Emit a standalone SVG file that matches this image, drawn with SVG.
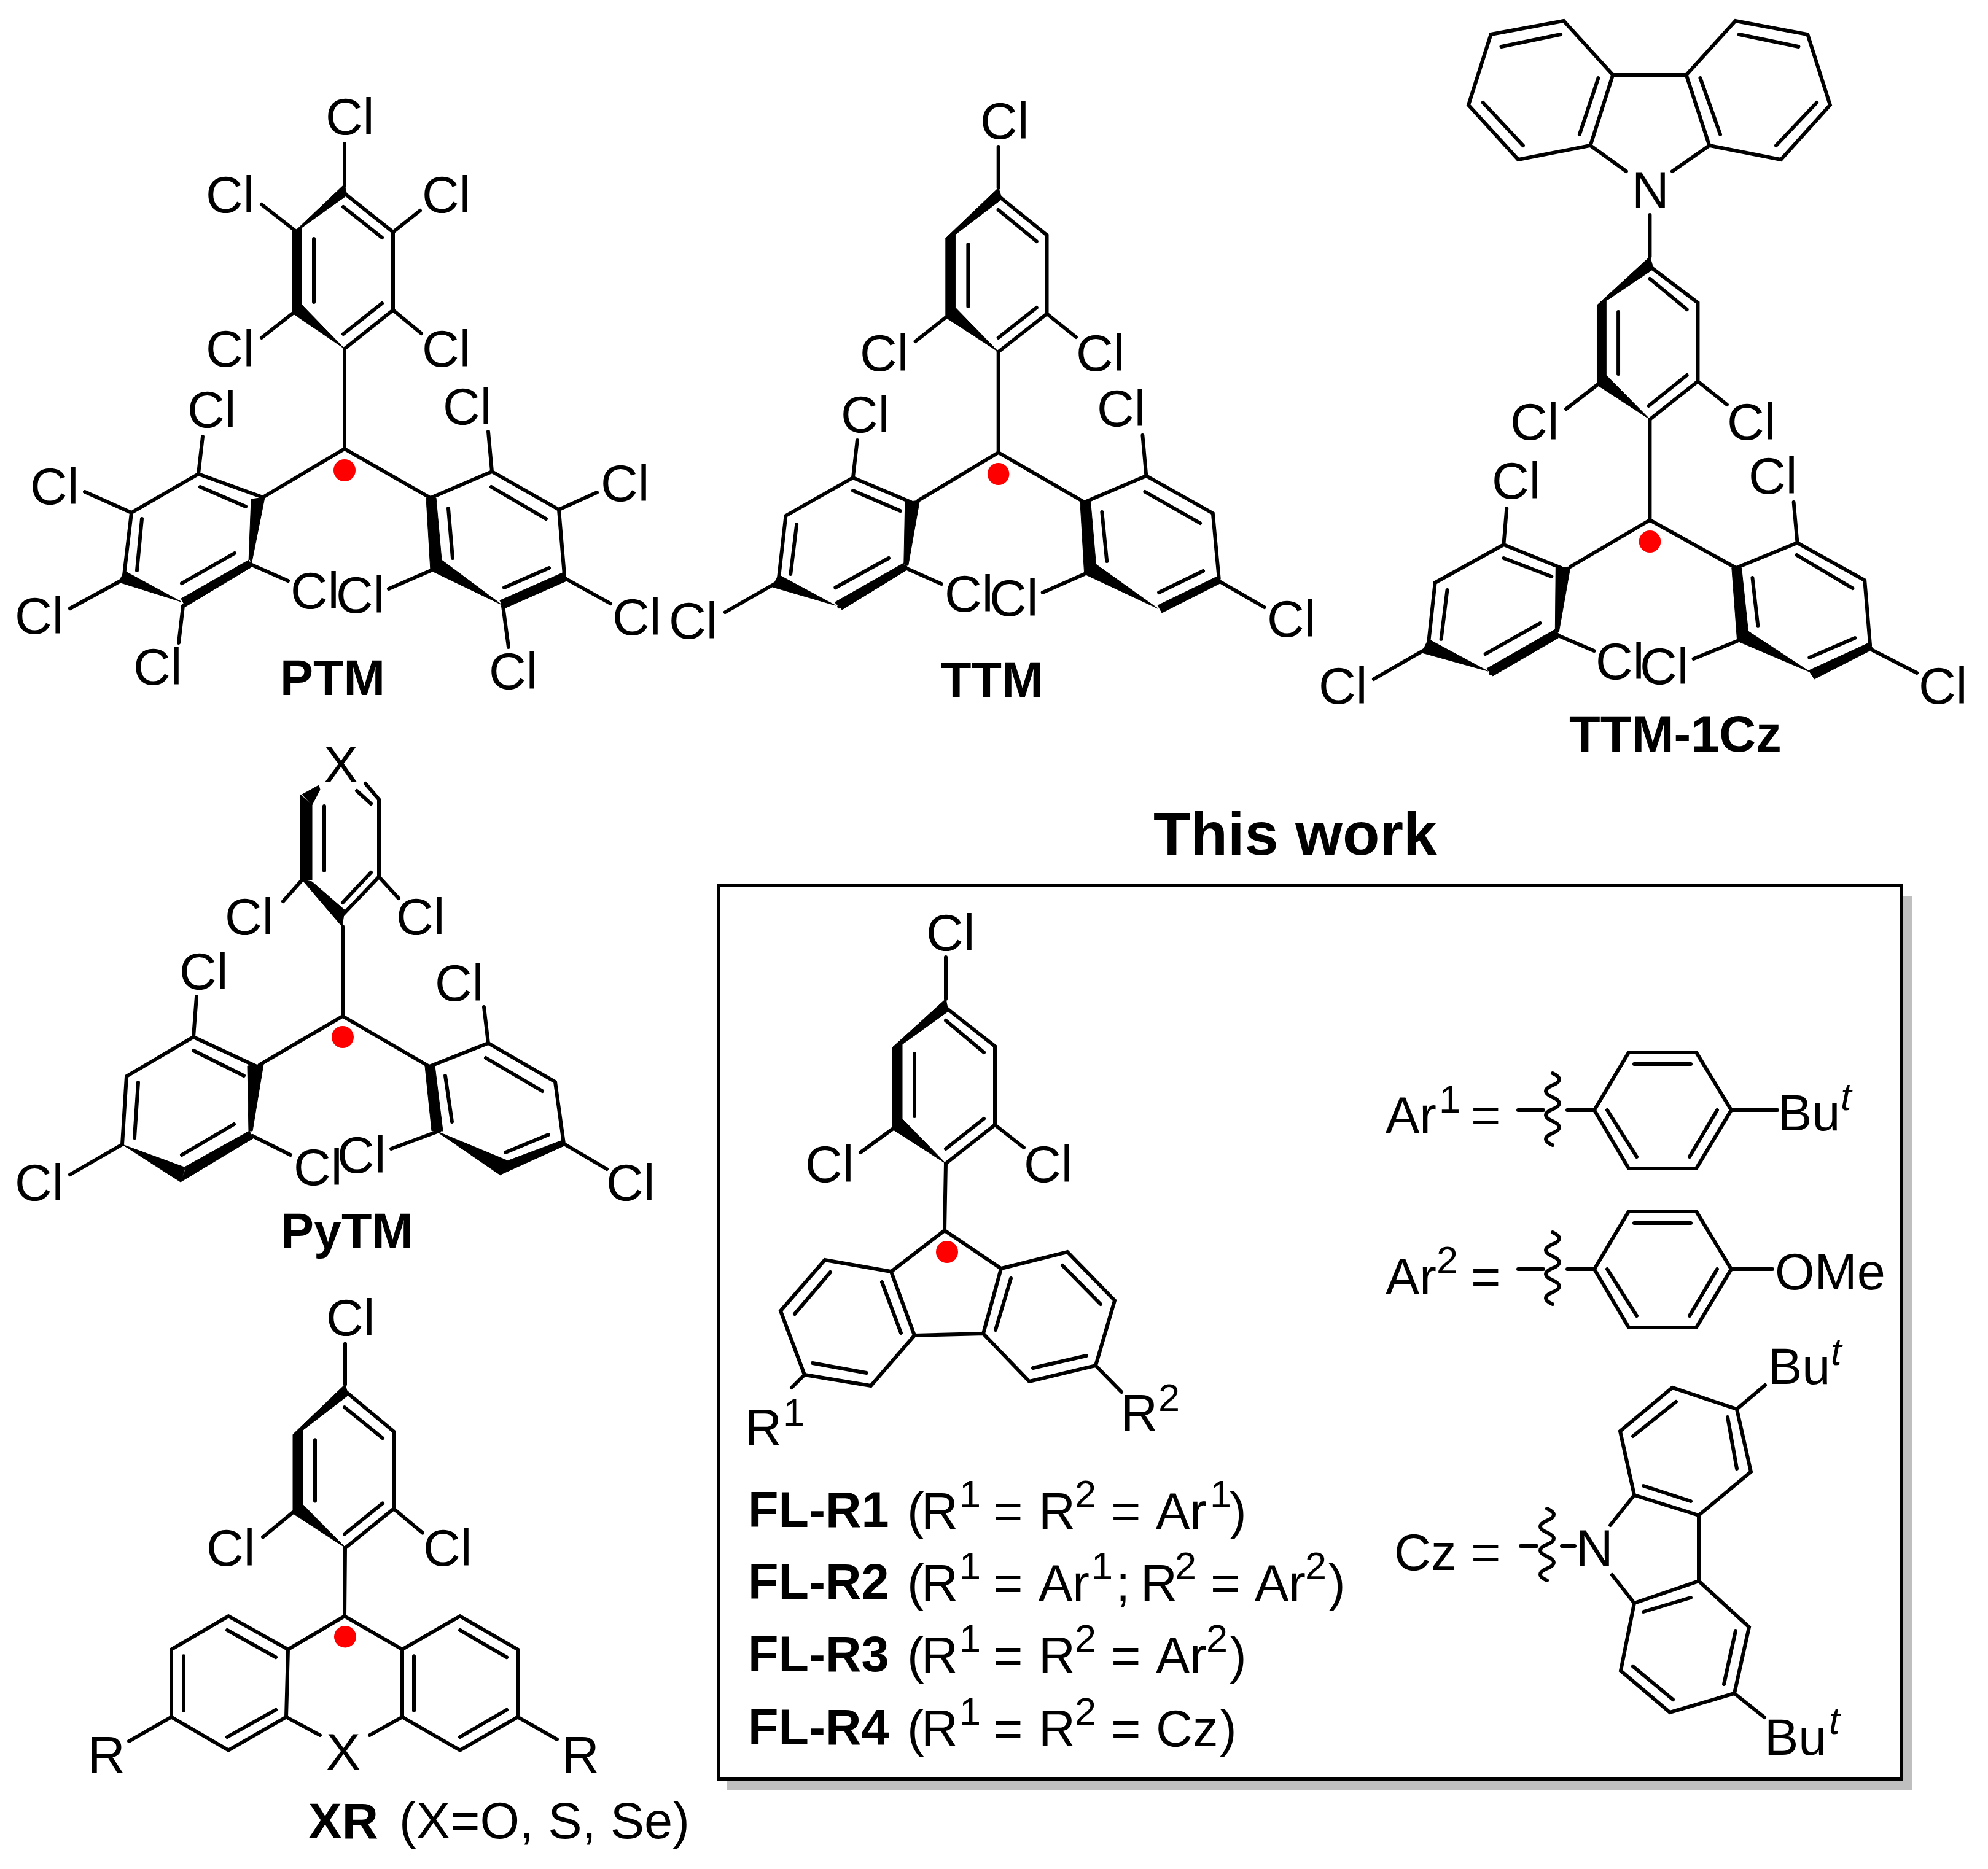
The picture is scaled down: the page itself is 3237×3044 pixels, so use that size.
<svg xmlns="http://www.w3.org/2000/svg" width="3237" height="3044" viewBox="0 0 3237 3044">
<style>
text{font-family:"Liberation Sans",Arial,sans-serif;fill:#000}
.a{font-size:84px}
.n{font-size:83px}
.s{font-size:63px}
.i{font-size:63px;font-style:italic}
.l{font-size:81px;font-weight:bold}
.b{fill:none;stroke:#000;stroke-width:6;stroke-linecap:round;stroke-linejoin:miter}
.w{fill:#000;stroke:#000;stroke-width:1}
.r{fill:#f00}
</style>
<rect width="3237" height="3044" fill="#fff"/>
<g id="box">
<rect x="1184" y="1460" width="1930" height="1455" fill="#bfbfbf"/>
<rect x="1170" y="1442" width="1926" height="1455" fill="#fff" stroke="#000" stroke-width="6"/>
</g>
<g id="connectors">
<path class="b" d="M561 731V568M561 731L428 810M561 731L701 811"/>
<path class="b" transform="translate(1093 0) scale(.9864 1) translate(-1093 0)" d="M1633 737V573M1633 737L1501 815M1633 737L1775 818"/>
<path class="b" transform="translate(2147 0) scale(.988 1) translate(-2151 0)" d="M2697 847V683M2697 847L2566 923M2697 847L2839 925M2697 350V418"/>
<path class="b" transform="translate(0 -9)" d="M558 1664V1518M558 1664L423 1743M558 1664L699 1746"/>
<path class="b" transform="translate(0 2175) scale(1 .9834) translate(0 -2175)" d="M562 2527L561 2640"/>
<path class="b" transform="translate(-7 -10)" d="M1547 1905L1545 2014"/>
</g>
<g id="ptm">
<path class="b" d="M561 302V234M481 376L426 333M640 378L684 343M477 510L426 550M640 505L686 543M561 315L640 378V505L561 568M559 337L622 387M511 389V492M559 544L622 494"/>
<path class="w" d="M561 300L565 318L491 371L481 376ZM476 376L491 371V496L476 510ZM476 510L491 496L561 568Z"/>
<path class="b" d="M428 810L323 772L214 835L202 937M409 919L298 987M326 793L400 825M231 845L223 929M296 950L382 901M323 772L330 711M214 835L138 801M202 943L114 991M298 987L291 1047M410 920L469 946"/>
<path class="w" d="M409 813L431 810L410 915L405 915ZM193 948L203 930L295 980ZM295 975L302 988L412 922L407 911Z"/>
<path class="b" d="M701 811L801 768L910 830L919 937M800 793L889 845M730 828L737 909M821 957L894 925M801 768L795 703M910 830L972 802M922 943L994 983M819 987L828 1054M702 929L633 959"/>
<path class="w" d="M694 811L710 811L719 912L701 929ZM701 929L719 912L817 985ZM814 978L821 991L925 945L918 932Z"/>
<circle class="r" cx="561" cy="766" r="18"/>
<text class="a" x="530" y="219">Cl</text><text class="a" x="335" y="346">Cl</text><text class="a" x="687" y="346">Cl</text><text class="a" x="335" y="597">Cl</text><text class="a" x="687" y="597">Cl</text>
<text class="a" x="305" y="696">Cl</text><text class="a" x="49" y="821">Cl</text><text class="a" x="24" y="1032">Cl</text><text class="a" x="217" y="1115">Cl</text><text class="a" x="473" y="991">Cl</text>
<text class="a" x="547" y="998">Cl</text><text class="a" x="721" y="691">Cl</text><text class="a" x="978" y="816">Cl</text><text class="a" x="997" y="1034">Cl</text><text class="a" x="796" y="1122">Cl</text>
<text class="l" x="456" y="1132">PTM</text>
</g>
<g id="ttm">
<g transform="translate(1093 0) scale(.9864 1) translate(-1093 0)">
<path class="b" d="M1633 306V239M1633 319L1713 383V511L1633 573M1633 342L1696 393M1583 398V499M1633 550L1696 501M1546 517L1496 556M1713 511L1761 549"/>
<path class="w" d="M1633 306L1639 324L1562 382L1546 388ZM1546 388L1562 382V501L1546 517ZM1546 517L1562 501L1633 573Z"/>
<path class="b" d="M1489 818L1393 778L1282 840L1270 945M1480 924L1370 988M1393 799L1471 832M1300 854L1290 935M1364 957L1452 909M1393 778L1400 717M1267 949L1182 997M1482 926L1539 951"/>
<path class="w" d="M1479 818L1503 815L1484 921L1477 921ZM1260 956L1270 936L1364 986ZM1363 981L1375 993L1482 928L1477 917Z"/>
<path class="b" d="M1775 818L1877 775L1987 836L1997 942M1804 834L1812 914M1875 801L1966 852M1898 965L1971 930M1877 775L1871 709M2000 948L2072 989M1775 935L1706 965"/>
<path class="w" d="M1768 816L1785 816L1794 919L1775 935ZM1775 935L1794 919L1896 991ZM1896 986L1903 998L2001 949L1996 938Z"/>
<circle class="r" cx="1633" cy="772" r="18"/>
</g>
<text class="a" x="1596" y="226">Cl</text><text class="a" x="1400" y="604">Cl</text><text class="a" x="1752" y="604">Cl</text>
<text class="a" x="1369" y="704">Cl</text><text class="a" x="1089" y="1040">Cl</text><text class="a" x="1538" y="996">Cl</text>
<text class="a" x="1786" y="694">Cl</text><text class="a" x="1611" y="1003">Cl</text><text class="a" x="2063" y="1037">Cl</text>
<text class="l" x="1532" y="1135">TTM</text>
</g>
<g id="ttm-1cz">
<g transform="translate(2147 0) scale(.988 1) translate(-2151 0)">
<path class="b" d="M2555 34L2435 56L2398 171L2480 260L2599 237L2636 122ZM2636 122H2757L2838 34L2957 56L2994 171L2913 260L2795 237L2757 122M2550 56L2452 76M2422 167L2488 237M2612 127L2581 219M2844 56L2942 76M2972 167L2905 237M2780 127L2813 219M2599 237L2658 279M2795 237L2734 279"/>
<path class="b" d="M2697 434L2776 493V621L2697 683M2697 454L2758 504M2645 508V609M2695 661L2758 611M2610 627L2559 666M2776 621L2824 659"/>
<path class="w" d="M2697 418L2703 438L2625 490L2610 497ZM2610 497L2625 490V611L2610 627ZM2610 627L2625 611L2697 683Z"/>
<path class="b" d="M2551 925L2456 887L2343 949L2332 1049M2544 1033L2435 1097M2456 909L2535 939M2363 961L2353 1041M2426 1065L2516 1015M2456 887L2461 828M2328 1057L2242 1106M2546 1035L2605 1060"/>
<path class="w" d="M2542 925L2566 923L2547 1029L2541 1029ZM2321 1063L2332 1041L2430 1093ZM2428 1089L2438 1101L2546 1039L2541 1025Z"/>
<path class="b" d="M2839 925L2940 884L3051 945L3060 1051M2866 941L2875 1019M2939 904L3031 958M2960 1071L3035 1039M2940 884L2934 818M3064 1059L3137 1096M2841 1044L2769 1073"/>
<path class="w" d="M2832 925L2848 925L2859 1028L2841 1044ZM2841 1044L2859 1028L2962 1095ZM2959 1092L2968 1106L3065 1057L3058 1047Z"/>
<circle class="r" cx="2697" cy="882" r="18"/>
</g>
<text class="a" x="2657" y="338">N</text>
<text class="a" x="2459" y="716">Cl</text><text class="a" x="2812" y="716">Cl</text>
<text class="a" x="2429" y="812">Cl</text><text class="a" x="2147" y="1146">Cl</text><text class="a" x="2598" y="1106">Cl</text>
<text class="a" x="2847" y="804">Cl</text><text class="a" x="2670" y="1114">Cl</text><text class="a" x="3124" y="1146">Cl</text>
<text class="l" x="2555" y="1224" style="font-size:83px">TTM-1Cz</text>
</g>
<g id="pytm">
<g transform="translate(0 -9)">
<path class="b" d="M617 1311V1437L558 1499M617 1311L595 1285M581 1297L604 1318M558 1479L604 1430M528 1322V1427M492 1442L461 1477M617 1437L649 1472"/>
<path class="w" d="M492 1303L519 1288L521 1295L508 1320ZM489 1303L508 1320V1442H489ZM492 1442L508 1445L561 1491L557 1518Z"/>
<path class="b" d="M416 1745L315 1698L206 1762L199 1873M315 1720L397 1761M225 1772L219 1862M296 1890L381 1840M315 1698L320 1632M199 1873L114 1922M411 1859L473 1890"/>
<path class="w" d="M403 1745L429 1742L411 1851L405 1851ZM199 1873L294 1934L303 1911ZM294 1934L302 1909L406 1851L412 1863Z"/>
<path class="b" d="M699 1746L795 1708L904 1771L918 1872M725 1761L736 1836M791 1732L883 1786M823 1886L893 1857M795 1708L788 1649M920 1873L988 1913M715 1851L637 1880"/>
<path class="w" d="M692 1745L708 1745L721 1851L703 1851ZM710 1851L828 1900L815 1923ZM815 1922L828 1899L916 1866L921 1874Z"/>
<circle class="r" cx="558" cy="1698" r="18"/>
</g>
<text class="a" x="527" y="1274">X</text>
<text class="a" x="366" y="1522">Cl</text><text class="a" x="645" y="1522">Cl</text>
<text class="a" x="292" y="1611">Cl</text><text class="a" x="24" y="1955">Cl</text><text class="a" x="478" y="1930">Cl</text>
<text class="a" x="708" y="1630">Cl</text><text class="a" x="549" y="1910">Cl</text><text class="a" x="987" y="1955">Cl</text>
<text class="l" x="457" y="2033">PyTM</text>
</g>
<g id="xr">
<g transform="translate(0 2175) scale(1 .9834) translate(0 -2175)">
<path class="b" d="M562 2189V2256M563 2268L641 2334V2462L562 2527M561 2294L623 2345M513 2348V2449M561 2504L623 2453M477 2468L428 2509M641 2462L688 2502"/>
<path class="w" d="M562 2256L567 2274L493 2332L477 2339ZM477 2339L493 2332V2455L477 2470ZM477 2470L493 2455L563 2527Z"/>
<path class="b" d="M561 2640L469 2695L372 2640L279 2695V2807L372 2862L466 2807M469 2695L466 2807M561 2640L655 2695L749 2640L843 2695V2807L749 2862L655 2807M655 2695V2807M370 2663L449 2708M299 2706V2796M370 2840L449 2795M749 2663L825 2708M674 2706V2796M749 2840L825 2795M466 2807L521 2837M655 2807L602 2837M279 2807L210 2847M843 2807L907 2844"/>
<circle class="r" cx="562" cy="2674" r="18"/>
</g>
<text class="a" x="531" y="2175">Cl</text><text class="a" x="336" y="2550">Cl</text><text class="a" x="689" y="2550">Cl</text>
<text class="a" x="531" y="2882">X</text><text class="a" x="143" y="2887">R</text><text class="a" x="915" y="2887">R</text>
<text class="l" x="502" y="2994" style="font-size:82px">XR</text><text class="n" x="650" y="2994">(X=O, S, Se)</text>
</g>
<g id="title"><text x="1878" y="1392" style="font-size:99px;font-weight:bold">This work</text></g>
<g id="fl">
<g transform="translate(-7 -10)">
<path class="b" d="M1547 1569V1637M1547 1651L1627 1714V1842L1547 1905M1547 1672L1609 1724M1496 1726V1828M1547 1881L1609 1832M1460 1849L1408 1887M1627 1842L1674 1879"/>
<path class="w" d="M1547 1637L1551 1657L1476 1711L1460 1716ZM1460 1716L1476 1711V1832L1460 1849ZM1460 1849L1476 1832L1547 1905Z"/>
<path class="b" d="M1545 2014L1458 2081L1496 2185L1608 2182L1637 2076L1545 2014M1458 2081L1350 2062L1278 2145L1317 2249L1425 2267L1496 2185M1637 2076L1745 2049L1822 2128L1791 2234L1683 2260L1608 2182M1359 2082L1301 2150M1330 2230L1418 2246M1443 2098L1474 2181M1653 2092L1628 2176M1737 2071L1799 2134M1776 2218L1689 2238M1317 2249L1296 2270M1791 2234L1833 2277"/>
<circle class="r" cx="1549" cy="2049" r="18"/>
</g>
<text class="a" x="1508" y="1548">Cl</text><text class="a" x="1311" y="1925">Cl</text><text class="a" x="1667" y="1925">Cl</text>
<text class="n" x="1213" y="2354">R</text><text class="s" x="1275" y="2322">1</text>
<text class="n" x="1825" y="2330">R</text><text class="s" x="1886" y="2298">2</text>
</g>
<g id="fl-list">
<text class="l" x="1218" y="2487">FL-R1</text>
<text class="n" x="1477" y="2490">(</text><text class="n" x="1500" y="2490">R</text><text class="s" x="1562" y="2455">1</text><text class="n" x="1617" y="2490">=</text><text class="n" x="1691" y="2490">R</text><text class="s" x="1750" y="2455">2</text><text class="n" x="1809" y="2490">=</text><text class="n" x="1882" y="2490">Ar</text><text class="s" x="1970" y="2455">1</text><text class="n" x="2002" y="2490">)</text>
<text class="l" x="1218" y="2604">FL-R2</text>
<text class="n" x="1477" y="2607">(</text><text class="n" x="1500" y="2607">R</text><text class="s" x="1562" y="2572">1</text><text class="n" x="1617" y="2607">=</text><text class="n" x="1691" y="2607">Ar</text><text class="s" x="1777" y="2572">1</text><text class="n" x="1817" y="2607">;</text><text class="n" x="1857" y="2607">R</text><text class="s" x="1913" y="2572">2</text><text class="n" x="1971" y="2607">=</text><text class="n" x="2043" y="2607">Ar</text><text class="s" x="2125" y="2572">2</text><text class="n" x="2163" y="2607">)</text>
<text class="l" x="1218" y="2722">FL-R3</text>
<text class="n" x="1477" y="2725">(</text><text class="n" x="1500" y="2725">R</text><text class="s" x="1562" y="2690">1</text><text class="n" x="1617" y="2725">=</text><text class="n" x="1691" y="2725">R</text><text class="s" x="1750" y="2690">2</text><text class="n" x="1809" y="2725">=</text><text class="n" x="1882" y="2725">Ar</text><text class="s" x="1964" y="2690">2</text><text class="n" x="2002" y="2725">)</text>
<text class="l" x="1218" y="2841">FL-R4</text>
<text class="n" x="1477" y="2844">(</text><text class="n" x="1500" y="2844">R</text><text class="s" x="1562" y="2809">1</text><text class="n" x="1617" y="2844">=</text><text class="n" x="1691" y="2844">R</text><text class="s" x="1750" y="2809">2</text><text class="n" x="1809" y="2844">=</text><text class="n" x="1882" y="2844">Cz</text><text class="n" x="1986" y="2844">)</text>
</g>
<g id="ar1">
<g transform="translate(-10 -10)">
<path class="b" d="M2482 1818H2523M2562 1818H2606L2662 1724H2772L2829 1818L2772 1913H2662L2606 1818M2671 1743H2763M2627 1818L2675 1894M2806 1818L2761 1894M2829 1818H2904"/>
<path class="b" d="M2538 1758q22 10 0 19.5t0 19.5t0 19.5t0 19.5t0 19.5t0 19.5"/>
</g>
<text class="n" x="2256" y="1845">Ar</text><text class="s" x="2343" y="1812">1</text><text class="n" x="2395" y="1845">=</text>
<text class="n" x="2895" y="1841">Bu</text><text class="i" x="2997" y="1808">t</text>
</g>
<g id="ar2">
<g transform="translate(-10 -10)">
<path class="b" d="M2482 2077H2523M2562 2077H2606L2662 1983H2772L2829 2077L2772 2172H2662L2606 2077M2671 2002H2763M2627 2077L2675 2153M2806 2077L2761 2153M2829 2077H2896"/>
<path class="b" d="M2538 2017q22 10 0 19.5t0 19.5t0 19.5t0 19.5t0 19.5t0 19.5"/>
</g>
<text class="n" x="2256" y="2108">Ar</text><text class="s" x="2339" y="2074">2</text><text class="n" x="2395" y="2108">=</text>
<text class="n" x="2890" y="2100">OMe</text>
</g>
<g id="cz">
<g transform="translate(-12 -8)">
<path class="b" d="M2840 2303L2735 2268L2650 2339L2673 2443L2778 2476L2863 2405ZM2778 2476V2583L2673 2619L2651 2729L2731 2797L2836 2766L2860 2658L2778 2583M2825 2316L2840 2400M2741 2291L2671 2347M2688 2428L2765 2453M2688 2633L2765 2610M2671 2722L2736 2776M2819 2751L2838 2664M2673 2443L2634 2492M2673 2619L2637 2573M2840 2303L2886 2264M2836 2766L2885 2805"/>
</g>
<g transform="translate(-6 -12)">
<path class="b" d="M2482 2530H2508M2549 2530H2570"/>
<path class="b" d="M2525 2469q22 10 0 19.5t0 19.5t0 19.5t0 19.5t0 19.5t0 19.5"/>
</g>
<text class="n" x="2270" y="2557">Cz</text><text class="n" x="2395" y="2557">=</text><text class="a" x="2566" y="2550">N</text>
<text class="n" x="2879" y="2254">Bu</text><text class="i" x="2981" y="2223">t</text>
<text class="n" x="2873" y="2858">Bu</text><text class="i" x="2978" y="2824">t</text>
</g>
</svg>
